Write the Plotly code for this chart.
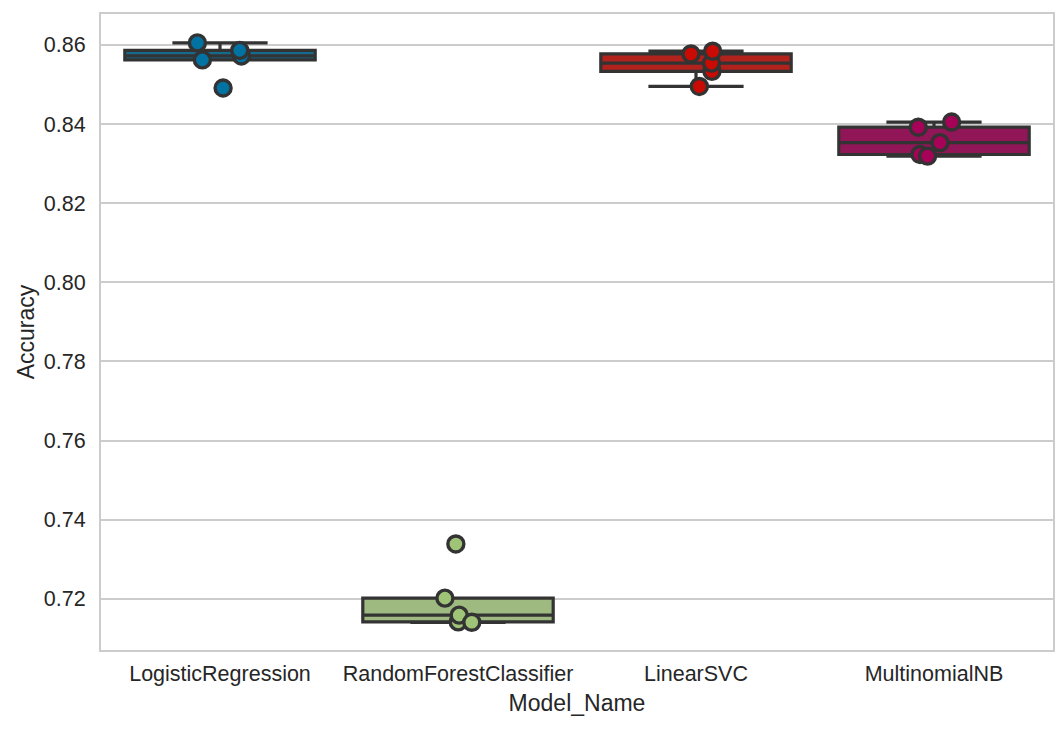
import plotly.graph_objects as go

# ---- data ----
model_names = ["LogisticRegression", "RandomForestClassifier", "LinearSVC", "MultinomialNB"]
acc_logreg = [0.8605, 0.8562, 0.8491, 0.8572, 0.8586]
acc_rf = [0.7339, 0.7202, 0.7142, 0.7159, 0.7141]
acc_svc = [0.8577, 0.8533, 0.8554, 0.8584, 0.8495]
acc_nb = [0.8392, 0.8405, 0.8353, 0.8323, 0.8319]

# strip-plot jitter (horizontal offsets, in category units)
jit_logreg = [-0.095, -0.074, 0.013, 0.090, 0.083]
jit_rf = [-0.009, -0.055, 0.001, 0.005, 0.058]
jit_svc = [-0.021, 0.067, 0.065, 0.070, 0.014]
jit_nb = [-0.066, 0.074, 0.025, -0.059, -0.027]

y_ticks = [0.72, 0.74, 0.76, 0.78, 0.80, 0.82, 0.84, 0.86]

# ---- styles ----
point_colors = ["#0272a2", "#9fc377", "#ca0b03", "#a50258"]
box_colors = ["#166a8e", "#9fba81", "#b1221c", "#911657"]
edge = "#333333"
grid = "#cccccc"
font_family = "Liberation Sans, Arial, sans-serif"

acc_all = [acc_logreg, acc_rf, acc_svc, acc_nb]
jit_all = [jit_logreg, jit_rf, jit_svc, jit_nb]

fig = go.Figure()

for i, vals in enumerate(acc_all):
    fig.add_trace(go.Box(
        x=[i] * len(vals), y=vals,
        width=0.8, whiskerwidth=0.5,
        quartilemethod="inclusive",
        boxpoints="outliers",
        marker=dict(opacity=0, size=1),
        fillcolor=box_colors[i],
        line=dict(color=edge, width=3.2),
        showlegend=False,
    ))

for i, vals in enumerate(acc_all):
    fig.add_trace(go.Scatter(
        x=[i + j for j in jit_all[i]], y=vals,
        mode="markers",
        marker=dict(size=16, color=point_colors[i], line=dict(color=edge, width=3.4)),
        showlegend=False,
    ))

fig.update_layout(
    width=1062, height=736,
    margin=dict(l=101, r=7, t=14, b=86),
    paper_bgcolor="white", plot_bgcolor="white",
    font=dict(family=font_family, color="#262626", size=21),
)
fig.update_xaxes(
    range=[-0.5, 3.5],
    tickmode="array", tickvals=list(range(len(model_names))), ticktext=model_names,
    showgrid=False, zeroline=False,
    showline=True, mirror=True, linecolor=grid, linewidth=2,
    ticks="", tickfont=dict(size=21.5), ticklabelstandoff=3,
    title=dict(text="Model_Name", font=dict(size=23), standoff=10),
)
fig.update_yaxes(
    range=[0.7071, 0.8678],
    tickmode="array", tickvals=y_ticks, ticktext=[f"{v:.2f}" for v in y_ticks],
    showgrid=True, gridcolor=grid, gridwidth=2, zeroline=False,
    showline=True, mirror=True, linecolor=grid, linewidth=2,
    ticks="", tickfont=dict(size=21.5), ticklabelstandoff=9,
    title=dict(text="Accuracy", font=dict(size=23), standoff=3),
)

fig.write_html("out.html")
